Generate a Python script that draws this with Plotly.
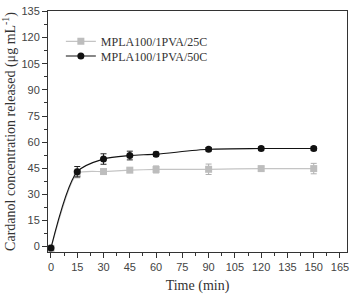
import plotly.graph_objects as go

time = [0, 15, 30, 45, 60, 90, 120, 150]
c25 = [-1.0, 42.0, 43.1, 43.9, 44.3, 44.4, 44.8, 44.8]
e25 = [0.8, 2.5, 1.5, 1.2, 2.0, 3.0, 1.2, 3.0]
c50 = [-0.8, 43.0, 50.3, 52.3, 53.1, 55.9, 56.3, 56.3]
e50 = [0.8, 3.0, 3.0, 2.5, 1.2, 1.0, 1.0, 1.0]
names = ["MPLA100/1PVA/25C", "MPLA100/1PVA/50C"]
xticks = list(range(0, 166, 15))
yticks = list(range(0, 136, 15))

fig = go.Figure()
fig.add_trace(go.Scatter(
    x=time, y=c25, name=names[0], mode="lines+markers", legend="legend",
    line=dict(color="#c4c4c4", width=1.2, shape="spline", smoothing=0.6),
    marker=dict(symbol="square", size=7, color="#bdbdbd"),
    error_y=dict(type="data", array=e25, color="#b0b0b0", thickness=1, width=3),
))
fig.add_trace(go.Scatter(
    x=time, y=c50, name=names[1], mode="lines+markers", legend="legend2",
    line=dict(color="#111111", width=1.1, shape="spline", smoothing=0.8),
    marker=dict(symbol="circle", size=7, color="#111111"),
    error_y=dict(type="data", array=e50, color="#222222", thickness=1, width=3),
))

axis_common = dict(
    showline=True, linecolor="#333333", linewidth=1, mirror=True,
    ticks="outside", ticklen=5, tickcolor="#333333", showgrid=False, zeroline=False,
    tickfont=dict(family="Liberation Sans, Arial", size=11, color="#444444"),
)
fig.update_xaxes(
    range=[-1.7, 169.0], tickvals=xticks, ticklabeloverflow="allow",
    title=dict(text="Time (min)", font=dict(family="Liberation Serif, Times New Roman", size=14, color="#333333"), standoff=7),
    minor=dict(dtick=7.5, tick0=0, ticks="outside", ticklen=3, tickcolor="#333333"),
    **axis_common,
)
fig.update_yaxes(
    range=[-3.1, 135.3], tickvals=yticks,
    title=dict(text="Cardanol concentration released (μg mL<sup>-1</sup>)", font=dict(family="Liberation Serif, Times New Roman", size=14, color="#333333"), standoff=4),
    minor=dict(dtick=7.5, tick0=0, ticks="outside", ticklen=3, tickcolor="#333333"),
    **axis_common,
)
leg_font = dict(family="Liberation Serif, Times New Roman", size=12, color="#333333")
fig.update_layout(
    width=354, height=295,
    margin=dict(l=48, r=5, t=9, b=40),
    paper_bgcolor="white", plot_bgcolor="white",
    showlegend=True,
    legend=dict(x=0.043, y=(255 - 40) / 246, xanchor="left", yanchor="middle", bgcolor="rgba(0,0,0,0)",
                font=leg_font, itemwidth=30),
    legend2=dict(x=0.043, y=(255 - 55) / 246, xanchor="left", yanchor="middle", bgcolor="rgba(0,0,0,0)",
                 font=leg_font, itemwidth=30),
)
fig.write_html("out.html", config={"displayModeBar": False},
               post_script="document.body.style.margin='0';")
